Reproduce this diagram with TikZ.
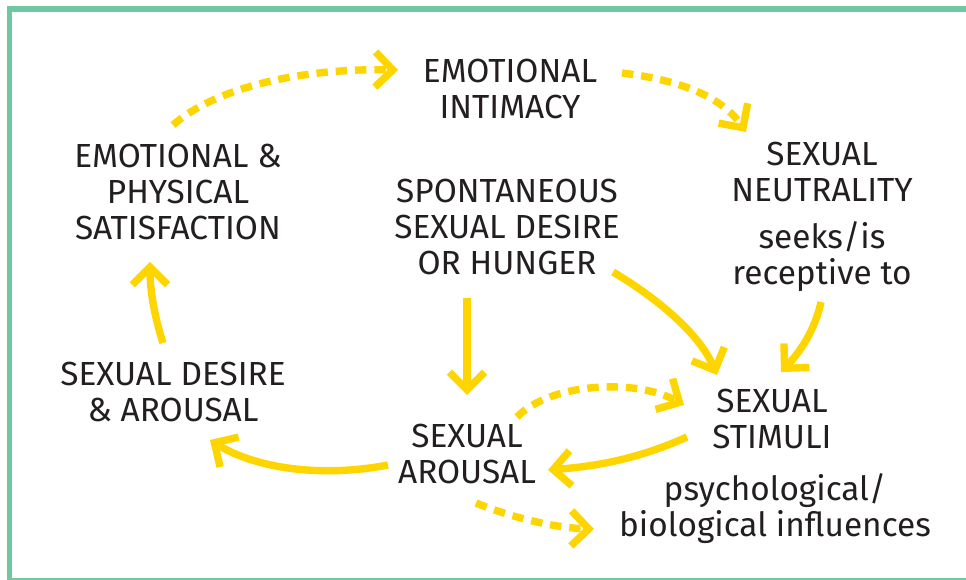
\documentclass[tikz,border=0pt]{standalone}
\usepackage{fontspec}
\setmainfont{Fira Sans}
\usetikzlibrary{arrows.meta}
\definecolor{frame}{HTML}{70C8A3}
\definecolor{sun}{HTML}{FFD500}
\definecolor{ink}{HTML}{231F20}
\tikzset{
  lbl/.style={align=center,text=ink,font=\fontsize{19}{20.5}\selectfont,inner sep=0pt},
  flow/.style={line width=4.2pt,sun,-{Straight Barb[length=10pt,width=20pt,line width=4.2pt]}},
  dflow/.style={flow,dash pattern=on 6.5pt off 4.5pt}
}

\begin{document}
\begin{tikzpicture}[x=0.02cm,y=-0.02cm]
  \useasboundingbox (0,0) rectangle (966,580);
  % frame
  \draw[frame,line width=3.4pt] (9.5,580) -- (9.5,9) -- (966,9);
  \draw[frame,line width=1.5pt] (9.5,579) -- (966,579);
  % labels
  \node[lbl] (intim) at (510,89) {EMOTIONAL\\INTIMACY};
  \node[lbl] (satis) at (178,192) {EMOTIONAL \&\\PHYSICAL\\SATISFACTION};
  \node[lbl] (spont) at (507,227) {SPONTANEOUS\\SEXUAL DESIRE\\OR HUNGER};
  \node[lbl] (neutr) at (822,172) {SEXUAL\\NEUTRALITY};
  \node[lbl] (seeks) at (822,257) {seeks/is\\receptive to};
  \node[lbl] (desar) at (173,392) {SEXUAL DESIRE\\\& AROUSAL};
  \node[lbl] (arous) at (467,454) {SEXUAL\\AROUSAL};
  \node[lbl] (stimu) at (772,419) {SEXUAL\\STIMULI};
  \node[lbl] (influ) at (775,509) {psychological/\\biological influences};
  % arrow ends
  \coordinate (satis-out) at (173,125);
  \coordinate (intim-in) at (398,70);
  \coordinate (intim-out) at (622,73);
  \coordinate (neutr-in) at (746,132);
  \coordinate (spont-out) at (613,272);
  \coordinate (stimu-in1) at (717,375);
  \coordinate (seeks-out) at (821,302);
  \coordinate (stimu-in2) at (781,372);
  \coordinate (spont-down) at (467,298);
  \coordinate (arous-in) at (467,395);
  \coordinate (arous-up) at (517,417);
  \coordinate (stimu-in3) at (684,405);
  \coordinate (stimu-out) at (687,437);
  \coordinate (arous-in2) at (548,470);
  \coordinate (arous-low) at (476,503);
  \coordinate (influ-in) at (594,529);
  \coordinate (arous-out) at (388,465);
  \coordinate (desar-in) at (210,440);
  \coordinate (desar-out) at (163,343);
  \coordinate (satis-in) at (150,262);
  % arrows
  \draw[dflow] (satis-out) .. controls (215,88) and (300,68) .. (intim-in);
  \draw[dflow] (intim-out) .. controls (680,80) and (722,97) .. (neutr-in);
  \draw[flow] (spont-out) .. controls (660,300) and (700,335) .. (stimu-in1);
  \draw[flow] (seeks-out) .. controls (815,330) and (800,352) .. (stimu-in2);
  \draw[flow] (spont-down) -- (arous-in);
  \draw[dflow] (arous-up) .. controls (550,383) and (635,378) .. (stimu-in3);
  \draw[flow] (stimu-out) .. controls (640,458) and (600,466) .. (arous-in2);
  \draw[dflow] (arous-low) .. controls (510,517) and (555,528) .. (influ-in);
  \draw[flow] (arous-out) .. controls (320,478) and (255,468) .. (desar-in);
  \draw[flow] (desar-out) .. controls (155,318) and (150,292) .. (satis-in);
\end{tikzpicture}
\end{document}
